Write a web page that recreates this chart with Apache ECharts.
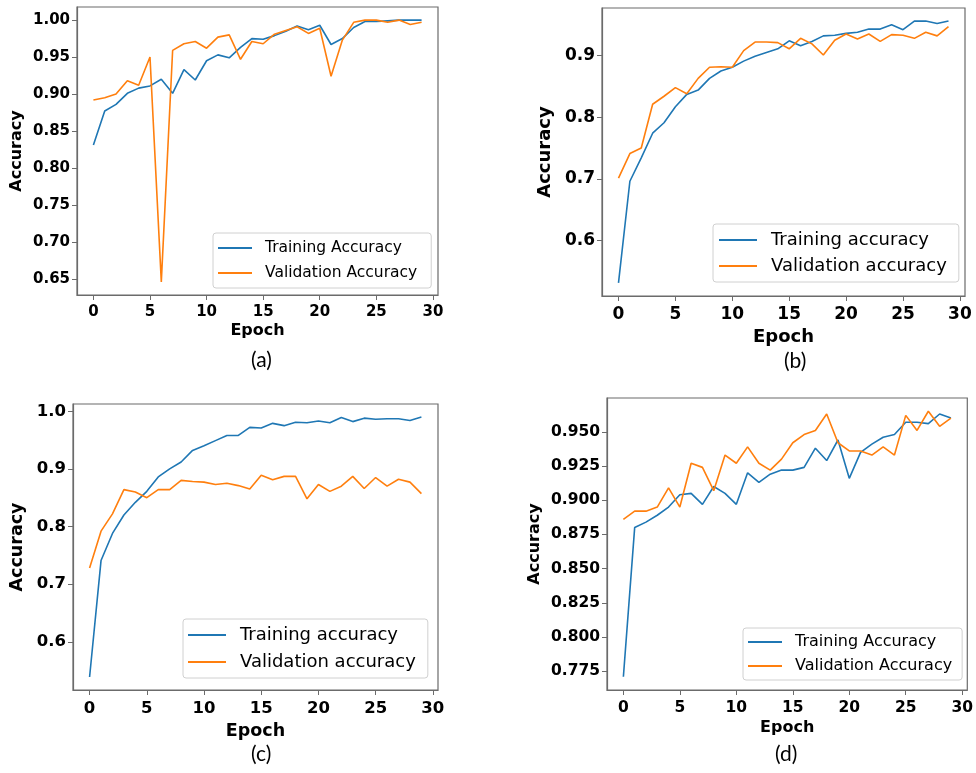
<!DOCTYPE html>
<html>
<head>
<meta charset="utf-8">
<script src="https://cdn.jsdelivr.net/npm/echarts@6/dist/echarts.min.js"></script>
<style>
  html, body { margin: 0; padding: 0; background: #fff; }
  #chart { width: 976px; height: 773px; }
</style>
</head>
<body>
<div id="chart"></div>
<script>
// epochs shared by all four panels
const epochs = [0, 1, 2, 3, 4, 5, 6, 7, 8, 9, 10, 11, 12, 13, 14, 15, 16, 17, 18, 19, 20, 21, 22, 23, 24, 25, 26, 27, 28, 29];
const xTicks = [0, 5, 10, 15, 20, 25, 30];

// (a)
const trainA = [0.831, 0.877, 0.886, 0.901, 0.908, 0.911, 0.920, 0.901, 0.933, 0.919, 0.945, 0.953, 0.949, 0.963, 0.975, 0.974, 0.979, 0.985, 0.992, 0.987, 0.993, 0.967, 0.975, 0.990, 0.998, 0.998, 0.999, 1.000, 1.000, 1.000];
const valA = [0.892, 0.895, 0.900, 0.918, 0.912, 0.950, 0.646, 0.959, 0.968, 0.971, 0.962, 0.977, 0.980, 0.947, 0.971, 0.968, 0.981, 0.986, 0.991, 0.982, 0.989, 0.924, 0.973, 0.997, 1.000, 1.000, 0.997, 1.000, 0.994, 0.997];
const yTicksA = [0.65, 0.70, 0.75, 0.80, 0.85, 0.90, 0.95, 1.00];

// (b)
const trainB = [0.531, 0.696, 0.734, 0.774, 0.791, 0.817, 0.837, 0.844, 0.863, 0.875, 0.881, 0.891, 0.899, 0.905, 0.911, 0.924, 0.916, 0.923, 0.932, 0.933, 0.936, 0.938, 0.943, 0.943, 0.950, 0.942, 0.956, 0.956, 0.952, 0.956];
const valB = [0.701, 0.741, 0.750, 0.821, 0.834, 0.848, 0.838, 0.863, 0.881, 0.882, 0.881, 0.908, 0.922, 0.922, 0.921, 0.911, 0.928, 0.919, 0.901, 0.925, 0.935, 0.927, 0.935, 0.923, 0.934, 0.933, 0.928, 0.938, 0.932, 0.947];
const yTicksB = [0.6, 0.7, 0.8, 0.9];

// (c)
const trainC = [0.539, 0.741, 0.788, 0.820, 0.842, 0.861, 0.886, 0.900, 0.912, 0.932, 0.940, 0.949, 0.958, 0.958, 0.972, 0.971, 0.979, 0.975, 0.981, 0.980, 0.983, 0.980, 0.989, 0.982, 0.988, 0.986, 0.987, 0.987, 0.984, 0.990];
const valC = [0.728, 0.792, 0.822, 0.864, 0.860, 0.850, 0.864, 0.864, 0.880, 0.878, 0.877, 0.873, 0.875, 0.871, 0.865, 0.889, 0.881, 0.887, 0.887, 0.848, 0.873, 0.861, 0.870, 0.887, 0.866, 0.885, 0.870, 0.882, 0.877, 0.857];
const yTicksC = [0.6, 0.7, 0.8, 0.9, 1.0];

// (d)
const trainD = [0.771, 0.880, 0.884, 0.889, 0.895, 0.904, 0.905, 0.897, 0.910, 0.905, 0.897, 0.920, 0.913, 0.919, 0.922, 0.922, 0.924, 0.938, 0.929, 0.944, 0.916, 0.935, 0.941, 0.946, 0.948, 0.957, 0.957, 0.956, 0.963, 0.960];
const valD = [0.886, 0.892, 0.892, 0.895, 0.909, 0.895, 0.927, 0.924, 0.907, 0.933, 0.927, 0.939, 0.927, 0.922, 0.930, 0.942, 0.948, 0.951, 0.963, 0.942, 0.936, 0.936, 0.933, 0.939, 0.933, 0.962, 0.951, 0.965, 0.954, 0.960];
const yTicksD = [0.775, 0.800, 0.825, 0.850, 0.875, 0.900, 0.925, 0.950];

const panels = [
  { train: trainA, val: valA, ticks: yTicksA, dec: 2, names: ['Training Accuracy', 'Validation Accuracy'],
    grid: { left: 77, top: 7, width: 361, height: 288 }, tickFont: 15, nameFont: 16, xGap: 28, yGap: 52, xMargin: 10,
    legend: { left: 213, top: 233, font: 15.5, itemGap: 9, width: 34, pad: [7, 14, 7, 5], textPad: 8 },
    caption: { text: '(a)', x: 263, y: 363 } },
  { train: trainB, val: valB, ticks: yTicksB, dec: 1, names: ['Training accuracy', 'Validation accuracy'],
    grid: { left: 602, top: 8, width: 363, height: 288 }, tickFont: 17, nameFont: 18, xGap: 32, yGap: 48, xMargin: 10,
    legend: { left: 713, top: 224, font: 18, itemGap: 8, width: 38, pad: [7, 12, 7, 6], textPad: 9 },
    caption: { text: '(b)', x: 796, y: 364 } },
  { train: trainC, val: valC, ticks: yTicksC, dec: 1, names: ['Training accuracy', 'Validation accuracy'],
    grid: { left: 73, top: 404, width: 365, height: 286 }, tickFont: 16.5, nameFont: 17.5, xGap: 32, yGap: 47, xMargin: 10,
    legend: { left: 183, top: 619, font: 18, itemGap: 9, width: 38, pad: [7, 12, 7, 5], textPad: 9 },
    caption: { text: '(c)', x: 263, y: 757 } },
  { train: trainD, val: valD, ticks: yTicksD, dec: 3, names: ['Training Accuracy', 'Validation Accuracy'],
    grid: { left: 607, top: 398, width: 361, height: 292 }, tickFont: 15.5, nameFont: 16, xGap: 30, yGap: 64, xMargin: 10,
    legend: { left: 743, top: 628, font: 16, itemGap: 8, width: 34, pad: [6, 10, 6, 5], textPad: 8 },
    caption: { text: '(d)', x: 787, y: 757 } }
];

const BLUE = '#1f77b4';
const ORANGE = '#ff7f0e';
const FRAME = '#6b6b6b';
const BOLD = 'DejaVu Sans';

const option = {
  animation: false,
  backgroundColor: '#fff',
  grid: [], xAxis: [], yAxis: [], series: [], legend: [], graphic: []
};

panels.forEach((p, i) => {
  const all = p.train.concat(p.val);
  const lo = Math.min(...all), hi = Math.max(...all);
  const pad = (hi - lo) * 0.05;

  option.grid.push(Object.assign({ show: true, borderColor: FRAME, borderWidth: 1.2 }, p.grid));

  option.xAxis.push({
    type: 'value', gridIndex: i, min: -1.45, max: 30.45,
    name: 'Epoch', nameLocation: 'middle', nameGap: p.xGap,
    nameTextStyle: { fontFamily: BOLD, fontWeight: 'bold', fontSize: p.nameFont, color: '#000' },
    axisLine: { show: true, onZero: false, lineStyle: { color: FRAME, width: 1.2 } },
    axisTick: { show: true, length: 5, customValues: xTicks, lineStyle: { color: FRAME } },
    axisLabel: { customValues: xTicks, margin: p.xMargin, fontFamily: BOLD, fontWeight: 'bold', fontSize: p.tickFont, color: '#000' },
    splitLine: { show: false }
  });

  option.yAxis.push({
    type: 'value', gridIndex: i, min: lo - pad, max: hi + pad,
    name: 'Accuracy', nameLocation: 'middle', nameRotate: 90, nameGap: p.yGap,
    nameTextStyle: { fontFamily: BOLD, fontWeight: 'bold', fontSize: p.nameFont, color: '#000' },
    axisLine: { show: true, onZero: false, lineStyle: { color: FRAME, width: 1.2 } },
    axisTick: { show: true, length: 5, customValues: p.ticks, lineStyle: { color: FRAME } },
    axisLabel: { customValues: p.ticks, margin: 7, fontFamily: BOLD, fontWeight: 'bold', fontSize: p.tickFont, color: '#000',
      formatter: v => v.toFixed(p.dec) },
    splitLine: { show: false }
  });

  [[p.train, BLUE, p.names[0]], [p.val, ORANGE, p.names[1]]].forEach(([vals, color, name]) => {
    option.series.push({
      type: 'line', name: name, xAxisIndex: i, yAxisIndex: i,
      data: epochs.map((e, k) => [e, vals[k]]),
      symbol: 'none', color: color,
      lineStyle: { color: color, width: 1.6 }
    });
  });

  option.legend.push({
    data: p.names.map(n => ({ name: n, icon: 'rect' })), orient: 'vertical', left: p.legend.left, top: p.legend.top,
    itemWidth: p.legend.width, itemHeight: 2, itemGap: p.legend.itemGap,
    padding: p.legend.pad, borderColor: '#d0d0d0', borderWidth: 1, borderRadius: 3,
    backgroundColor: 'rgba(255,255,255,0.8)', selectedMode: false,
    textStyle: { fontFamily: 'DejaVu Sans', fontSize: p.legend.font, color: '#000', padding: [0, 0, 0, p.legend.textPad] }
  });

  option.graphic.push({
    type: 'text', left: p.caption.x - 12, top: p.caption.y - 13,
    style: { text: p.caption.text, fontFamily: 'Lato', fontSize: 21, fill: '#000' }
  });
});

const chart = echarts.init(document.getElementById('chart'), null, { renderer: 'canvas' });
chart.setOption(option);
</script>
</body>
</html>
